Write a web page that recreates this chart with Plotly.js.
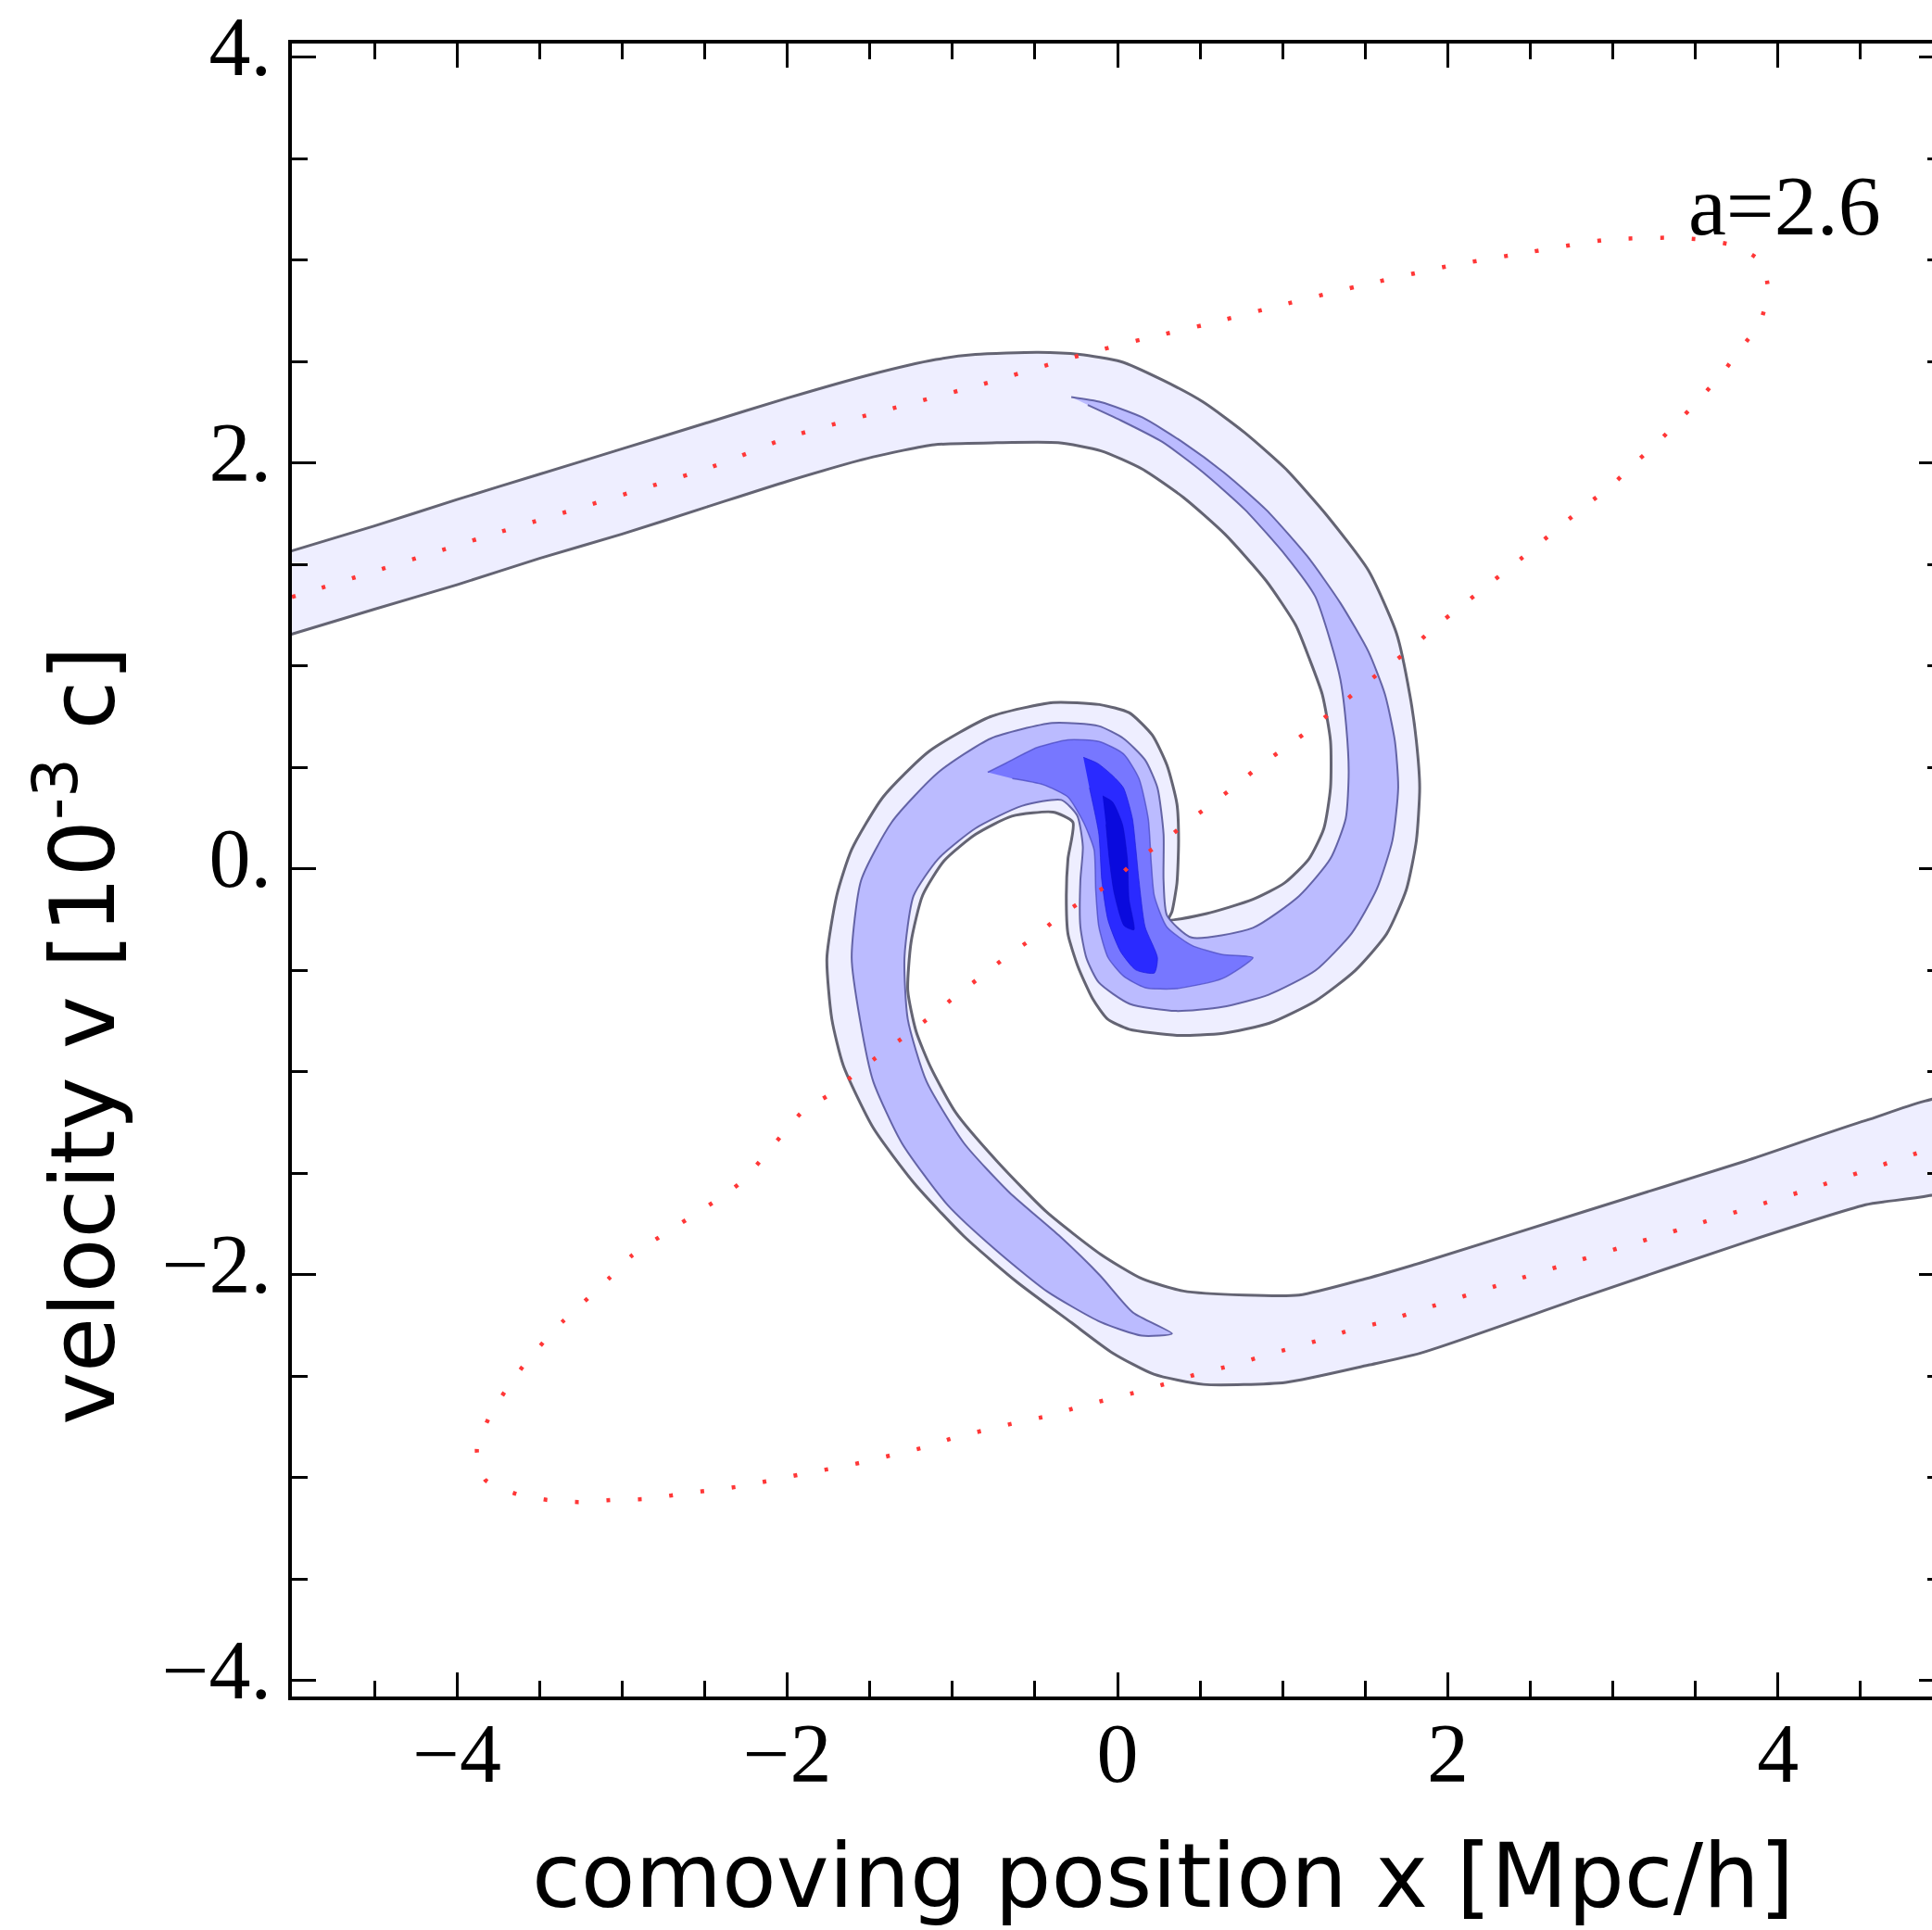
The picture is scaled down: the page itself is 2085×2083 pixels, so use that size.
<!DOCTYPE html>
<html>
<head>
<meta charset="utf-8">
<script src="https://cdn.plot.ly/plotly-3.0.1.min.js"></script>
<style>
  html, body { margin: 0; padding: 0; background: #ffffff; overflow: hidden; }
  #chart { width: 2100px; height: 2083px; }
</style>
</head>
<body>
<div id="chart"></div>
<script>
// ---- tick labels ----
const xTickVals = [-4, -2, 0, 2, 4];
const xTickText = ["\u22124", "\u22122", "0", "2", "4"];
const yTickVals = [-4, -2, 0, 2, 4];
const yTickText = ["\u22124.", "\u22122.", "0.", "2.", "4."];

// ---- phase-space density contours (outlines) ----
// level 1: outermost band (lightest)
const lvl1X = [-5.05,-4.5,-4.0,-3.5,-3.0,-2.5,-2.0,-1.5,-1.1,-0.86,-0.48,-0.23,0.02,0.27,0.52,0.77,1.02,1.27,1.52,1.69,1.77,1.81,1.83,1.81,1.75,1.63,1.44,1.20,0.92,0.64,0.36,0.07,-0.06,-0.15,-0.24,-0.30,-0.31,-0.30,-0.27,
  -0.39,-0.64,-0.86,-1.05,-1.18,-1.25,-1.27,-1.22,-1.13,-0.98,-0.73,-0.43,-0.10,0.15,0.40,0.77,1.10,1.50,1.84,2.82,3.80,4.53,5.05,
  5.05,4.53,3.80,2.82,1.84,1.52,1.02,0.52,0.22,-0.03,-0.28,-0.61,-0.93,-1.23,-1.48,-1.66,-1.73,-1.76,-1.70,-1.61,-1.42,-1.14,-0.77,-0.39,-0.11,0.07,0.21,0.30,0.36,0.37,0.36,0.33,0.31,
  0.54,0.82,1.01,1.16,1.25,1.29,1.29,1.24,1.16,1.08,0.90,0.65,0.40,0.15,-0.10,-0.36,-0.73,-1.11,-1.48,-2.0,-2.5,-3.0,-3.5,-4.0,-4.5,-5.05];
const lvl1Y = [1.555,1.69,1.82,1.945,2.07,2.195,2.32,2.435,2.51,2.535,2.545,2.535,2.50,2.41,2.30,2.15,1.97,1.74,1.47,1.16,0.86,0.63,0.40,0.14,-0.10,-0.32,-0.50,-0.65,-0.76,-0.81,-0.82,-0.79,-0.74,-0.64,-0.48,-0.32,-0.13,0.05,0.23,
  0.28,0.26,0.17,0.04,-0.13,-0.36,-0.60,-0.80,-0.98,-1.20,-1.44,-1.69,-1.90,-2.02,-2.08,-2.10,-2.10,-2.02,-1.94,-1.69,-1.44,-1.24,-1.13,
  -1.57,-1.655,-1.84,-2.11,-2.385,-2.445,-2.53,-2.54,-2.49,-2.385,-2.235,-2.035,-1.81,-1.55,-1.275,-0.97,-0.74,-0.44,-0.13,0.095,0.354,0.58,0.75,0.82,0.81,0.77,0.66,0.51,0.32,0.14,-0.07,-0.21,-0.25,
  -0.22,-0.15,-0.07,0.05,0.20,0.40,0.63,0.86,1.04,1.20,1.42,1.65,1.83,1.97,2.06,2.10,2.10,2.09,2.03,1.91,1.78,1.65,1.53,1.40,1.28,1.145];

// level 2: spiral arms
const lvl2X = [-0.28,-0.10,0.15,0.40,0.65,0.90,1.15,1.35,1.52,1.62,1.68,1.70,1.665,1.57,1.42,1.20,0.915,0.635,0.355,0.074,-0.113,-0.188,-0.225,-0.225,-0.21,-0.244,
  -0.34,-0.58,-0.86,-1.085,-1.235,-1.29,-1.27,-1.157,-0.931,-0.656,-0.355,-0.105,0.095,0.33,
  0.146,-0.105,-0.43,-0.731,-1.031,-1.307,-1.48,-1.56,-1.61,-1.553,-1.366,-1.085,-0.767,-0.394,-0.113,0.036,0.167,0.242,0.279,0.279,0.30,
  0.448,0.82,1.10,1.289,1.382,1.40,1.385,1.35,1.29,1.197,1.022,0.772,0.521,0.271,0.02,-0.18];
const lvl2Y = [2.325,2.30,2.225,2.10,1.95,1.77,1.54,1.31,1.07,0.86,0.63,0.40,0.14,-0.10,-0.315,-0.50,-0.62,-0.68,-0.70,-0.665,-0.56,-0.44,-0.285,-0.057,0.11,0.263,
  0.34,0.31,0.20,0.05,-0.133,-0.437,-0.741,-1.046,-1.35,-1.593,-1.806,-2.004,-2.187,-2.29,
  -2.30,-2.232,-2.08,-1.882,-1.654,-1.35,-1.046,-0.741,-0.437,-0.057,0.232,0.476,0.643,0.719,0.704,0.643,0.537,0.40,0.172,-0.057,-0.23,
  -0.338,-0.29,-0.133,0.05,0.248,0.476,0.704,0.932,1.12,1.343,1.541,1.77,1.952,2.104,2.21,2.286];

// level 3: central S
const lvl3X = [-0.786,-0.674,-0.487,-0.30,-0.113,0.036,0.13,0.186,0.205,0.223,0.298,0.448,0.635,0.82,0.635,0.355,0.167,0.036,-0.057,-0.113,-0.132,-0.142,-0.207,-0.30,-0.45,-0.637];
const lvl3Y = [0.476,0.522,0.598,0.636,0.628,0.567,0.445,0.248,0.02,-0.133,-0.285,-0.376,-0.422,-0.437,-0.54,-0.59,-0.585,-0.528,-0.437,-0.285,-0.102,0.095,0.232,0.354,0.415,0.445];

// level 4: core
const lvl4X = [-0.207,-0.12,-0.03,0.036,0.09,0.111,0.13,0.167,0.242,0.223,0.111,0.018,-0.057,-0.095,-0.113,-0.17];
const lvl4Y = [0.55,0.52,0.46,0.40,0.25,0.10,-0.057,-0.285,-0.437,-0.513,-0.498,-0.407,-0.254,-0.057,0.172,0.40];

// level 5: densest core
const lvl5X = [-0.09,-0.03,0.03,0.06,0.07,0.10,0.04,-0.02,-0.05,-0.07];
const lvl5Y = [0.36,0.33,0.22,0.05,-0.15,-0.30,-0.28,-0.12,0.05,0.22];

// red dotted curve (a = 2.6 reference)
const curveX = [-5.0,-4.84,-3.74,-2.46,-1.98,-1.36,-0.81,-0.23,0.15,0.52,1.0,1.45,2.0,2.5,2.96,3.35,3.54,3.74,3.90,3.94,3.89,3.78,3.66,3.53,3.39,3.27,3.12,2.98,2.85,2.40,1.92,1.77,1.62,1.50,1.35,1.185,1.03,0.88,0.73,0.57,0.42,0.27,0.11,-0.04,-0.20,-0.36,-0.51,-0.67,-0.81,-0.97,-1.12,-1.28,-1.43,-1.59,-1.74,-1.90,-2.29,-2.94,-3.07,-3.20,-3.36,-3.475,-3.60,-3.71,-3.81,-3.88,-3.83,-3.64,-3.45,-3.26,-3.07,-2.87,-2.68,-2.50,-2.31,-2.11,-1.93,-1.735,-1.55,-1.35,-1.17,-0.98,-0.80,-0.62,-0.42,-0.23,0.13,0.32,0.50,0.70,0.88,1.06,1.25,1.42,1.62,1.81,2.35,3.47,4.20,4.92,5.0];
const curveY = [1.34,1.38,1.66,1.98,2.13,2.27,2.39,2.53,2.61,2.68,2.78,2.87,2.97,3.04,3.10,3.11,3.10,3.07,2.99,2.85,2.69,2.57,2.44,2.32,2.20,2.10,1.99,1.88,1.80,1.50,1.19,1.08,0.99,0.91,0.81,0.70,0.605,0.52,0.42,0.32,0.23,0.13,0.04,-0.07,-0.15,-0.24,-0.34,-0.43,-0.52,-0.62,-0.72,-0.82,-0.91,-1.01,-1.11,-1.19,-1.55,-1.905,-2.01,-2.11,-2.23,-2.33,-2.45,-2.575,-2.71,-2.86,-3.01,-3.08,-3.11,-3.12,-3.11,-3.105,-3.085,-3.065,-3.045,-3.015,-2.985,-2.955,-2.925,-2.885,-2.85,-2.80,-2.765,-2.73,-2.695,-2.65,-2.575,-2.53,-2.485,-2.445,-2.40,-2.36,-2.315,-2.27,-2.23,-2.18,-2.04,-1.76,-1.575,-1.38,-1.36];

function band(xs, ys, fill, lineColor, lineWidth) {
  return {
    type: 'scatter', mode: 'lines', x: xs, y: ys,
    fill: 'toself', fillcolor: fill,
    line: { color: lineColor, width: lineWidth, shape: 'spline', smoothing: 0.6 },
    hoverinfo: 'skip', showlegend: false
  };
}

const traces = [
  band(lvl1X, lvl1Y, '#EEEEFF', 'rgb(100,100,115)', 3),
  band(lvl2X, lvl2Y, '#BBBBFF', 'rgba(80,80,150,0.85)', 2),
  band(lvl3X, lvl3Y, '#7777FF', 'rgba(70,70,190,0.7)', 1.5),
  band(lvl4X, lvl4Y, '#2A2AFF', 'rgba(30,30,220,0.7)', 1),
  band(lvl5X, lvl5Y, '#0A0ADD', 'rgba(10,10,200,0.6)', 1),
  {
    type: 'scatter', mode: 'lines', x: curveX, y: curveY,
    line: { color: 'rgb(255,55,55)', width: 4.5, dash: '4px,30px', shape: 'spline', smoothing: 0.6 },
    hoverinfo: 'skip', showlegend: false
  }
];

const axisCommon = {
  ticks: 'inside', ticklen: 26, tickwidth: 3, tickcolor: '#000',
  showline: true, linewidth: 4, linecolor: '#000', mirror: 'ticks',
  showgrid: false, zeroline: false,
  tickfont: { family: 'Liberation Serif, Times New Roman, serif', size: 90, color: '#000' },
  minor: { tickmode: 'linear', tick0: 0, dtick: 0.5, ticks: 'inside', ticklen: 17, tickwidth: 3, tickcolor: '#000', showgrid: false }
};

const layout = {
  width: 2100, height: 2083,
  margin: { l: 315, r: 3, t: 47, b: 252 },
  paper_bgcolor: '#ffffff', plot_bgcolor: '#ffffff',
  showlegend: false,
  xaxis: Object.assign({}, axisCommon, {
    range: [-5, 5], tickmode: 'array', tickvals: xTickVals, ticktext: xTickText,
    ticklabelstandoff: -20
  }),
  yaxis: Object.assign({}, axisCommon, {
    range: [-4.078, 4.067], tickmode: 'array', tickvals: yTickVals, ticktext: yTickText,
    ticklabelstandoff: 0, ticklabelshift: -12
  }),
  annotations: [
    { text: 'a=2.6', xref: 'x', yref: 'y', x: 4.04, y: 3.266, xanchor: 'center', yanchor: 'middle',
      showarrow: false, font: { family: 'Liberation Serif, Times New Roman, serif', size: 92, color: '#000' } },
    { text: 'comoving position x [Mpc/h]', xref: 'paper', yref: 'paper', x: 0.5275, y: -0.109,
      xanchor: 'center', yanchor: 'middle', showarrow: false,
      font: { family: 'DejaVu Sans, sans-serif', size: 96, color: '#000' } },
    { text: 'velocity v [10<sup>-3</sup> c]', xref: 'paper', yref: 'paper', x: -0.13, y: 0.40,
      xanchor: 'center', yanchor: 'middle', textangle: -90, showarrow: false,
      font: { family: 'DejaVu Sans, sans-serif', size: 96, color: '#000' } }
  ]
};

Plotly.newPlot('chart', traces, layout, { displayModeBar: false, staticPlot: true });
</script>
</body>
</html>
